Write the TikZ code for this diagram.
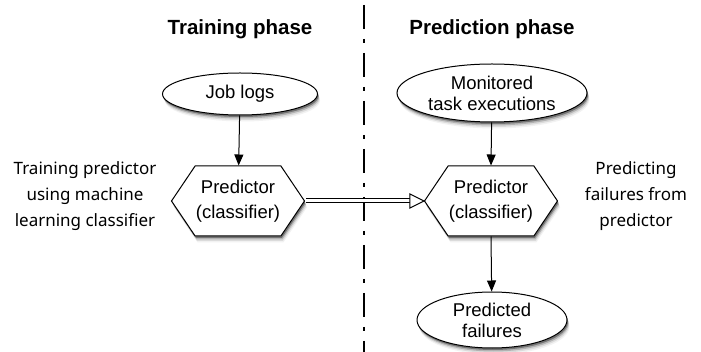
\documentclass[tikz,border=0pt]{standalone}
\usepackage{fontspec}
\setmainfont{Liberation Sans}
\newfontfamily\sidefont{Noto Sans}
\usetikzlibrary{arrows.meta,shapes.geometric,shapes.symbols}
\newcommand\shnode[5]{%
  \node[#1,draw=none,fill=black!5] at ({#3+2.5},{#4+6.5}) {};
  \node[#1,draw=none,fill=black!14] at ({#3+2},{#4+5}) {};
  \node[#1,draw=none,fill=black!30] at ({#3+1.5},{#4+3.5}) {};
  \node[#1,draw=none,fill=black!55] at ({#3+1},{#4+2}) {};
  \node[#1,label={[nodetext]center:{#5}}] (#2) at (#3,#4) {};}
\begin{document}
\begin{tikzpicture}[x=1pt,y=-1pt,
  nodetext/.style={font=\fontsize{18.5}{21}\selectfont,align=center,inner sep=0pt},
  oval/.style={ellipse,draw,line width=1pt,fill=white,inner sep=0pt},
  hexa/.style={signal,signal to=east and west,signal pointer angle=112,draw,line width=1pt,
    fill=white,minimum width=133pt,minimum height=70pt,inner sep=0pt},
  title/.style={font=\fontsize{20.5}{24}\selectfont\bfseries},
  side/.style={font=\sidefont\fontsize{17}{26}\selectfont,align=center},
  conn/.style={line width=1pt,-{Triangle[length=11pt,width=9pt]}},
  divider/.style={line width=2.6pt,dash pattern=on 24pt off 10pt on 4pt off 10pt},
  dshaft/.style={line width=1pt,double=white,double distance=3pt},
  opentip/.style={line width=1pt,fill=white,line join=miter}
]
\useasboundingbox (0,0) rectangle (701,352);
\coordinate (dtop) at (364,5);
\coordinate (dbot) at (364,352);
\draw[divider] (dtop) -- (dbot);

\node[title] (t1) at (240,29) {Training phase};
\node[title] (t2) at (492,29) {Prediction phase};

\shnode{oval,minimum width=155pt,minimum height=42pt}{jl}{240}{94}{Job logs}
\shnode{oval,minimum width=190pt,minimum height=58pt}{mt}{492}{93}{Monitored\\task executions}
\shnode{hexa}{hl}{238}{201}{Predictor\\[4pt](classifier)}
\shnode{hexa}{hr}{491}{201}{Predictor\\[4pt](classifier)}
\shnode{oval,minimum width=150pt,minimum height=56pt}{pf}{492}{320}{Predicted\\failures}

\node[side] (sl) at (85,196) {Training predictor\\using machine\\learning classifier};
\node[side] (sr) at (636,196) {Predicting\\failures from\\predictor};

\draw[conn] (jl) -- (hl);
\draw[conn] (mt) -- (hr.north);
\draw[conn] (hr.south) -- (pf);
\coordinate (tipbase) at ([xshift=-14pt]hr.west);
\draw[dshaft] ([xshift=1pt]hl.east) -- ([xshift=1pt]tipbase);
\draw[opentip] (hr.west) -- ([yshift=7pt]tipbase) -- ([yshift=-7pt]tipbase) -- cycle;
\end{tikzpicture}
\end{document}
